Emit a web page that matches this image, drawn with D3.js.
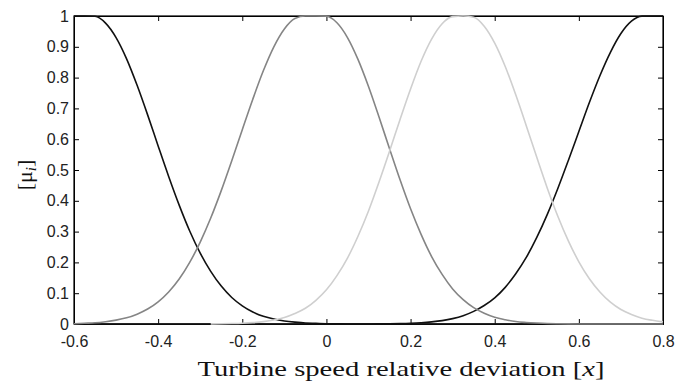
<!DOCTYPE html>
<html><head><meta charset="utf-8">
<script src="https://cdn.jsdelivr.net/npm/d3@7"></script>
<style>body{margin:0;background:#fff}svg{display:block}</style>
</head><body><svg id="c" width="683" height="382"></svg>
<script>
// x positions (relative deviation)
const xValues = [-0.6,-0.575,-0.55,-0.525,-0.5,-0.475,-0.45,-0.425,-0.4,-0.375,-0.35,-0.325,-0.3,-0.275,-0.25,-0.225,-0.2,-0.175,-0.15,-0.125,-0.1,-0.075,-0.05,-0.025,0,0.025,0.05,0.075,0.1,0.125,0.15,0.175,0.2,0.225,0.25,0.275,0.3,0.325,0.35,0.375,0.4,0.425,0.45,0.475,0.5,0.525,0.55,0.575,0.6,0.625,0.65,0.675,0.7,0.725,0.75,0.775,0.8];
// membership 1 (black, left)
const muLow = [1,1,0.999,0.977,0.930,0.861,0.775,0.679,0.578,0.479,0.386,0.302,0.230,0.171,0.123,0.086,0.059,0.039,0.025,0.016,0.010,0.006,0.003,0.002,0.001,0.0005,0,0,0,0,0,0,0,0,0,0,0,0,0,0,0,0,0,0,0,0,0,0,0,0,0,0,0,0,0,0,0];
// membership 4 (black, right)
const muHigh = [0,0,0,0,0,0,0,0,0,0,0,0,0,0,0,0,0,0,0,0,0,0,0,0,0,0,0.0001,0.0001,0.0002,0.0004,0.0008,0.0014,0.0024,0.0041,0.0069,0.011,0.0175,0.027,0.041,0.060,0.085,0.119,0.163,0.216,0.281,0.356,0.440,0.531,0.625,0.719,0.806,0.882,0.943,0.983,0.9995,1,1];
// membership 2 (dark grey)
const muZero = [0.001,0.0025,0.004,0.0075,0.0125,0.020,0.032,0.0485,0.072,0.104,0.146,0.200,0.266,0.344,0.433,0.530,0.631,0.730,0.822,0.900,0.958,0.992,1,1,0.999,0.978,0.930,0.859,0.771,0.672,0.569,0.468,0.374,0.291,0.219,0.161,0.114,0.079,0.053,0.035,0.022,0.014,0.008,0.005,0.003,0.0015,0.0008,0.0004,0.0002,0,0,0,0,0,0,0,0];
// membership 3 (light grey)
const muMid = [null,null,null,null,null,null,null,null,null,null,null,null,null,0.0004,0.0007,0.0014,0.0025,0.0045,0.0078,0.013,0.021,0.034,0.051,0.077,0.111,0.157,0.214,0.285,0.367,0.461,0.561,0.664,0.763,0.853,0.925,0.975,0.998,1,0.996,0.967,0.912,0.836,0.744,0.644,0.541,0.441,0.350,0.270,0.202,0.147,0.104,0.071,0.047,0.031,0.019,0.012,0.007];
const xTicks = [-0.6,-0.4,-0.2,0,0.2,0.4,0.6,0.8];
const yTicks = [0,0.1,0.2,0.3,0.4,0.5,0.6,0.7,0.8,0.9,1];
const seriesList = [
  {name:"low", values: muLow, color:"#111111"},
  {name:"high", values: muHigh, color:"#111111"},
  {name:"zero", values: muZero, color:"#858585"},
  {name:"mid", values: muMid, color:"#cfcfcf"}
];

const svg = d3.select("#c");
const L = 74, R = 663, T = 16, B = 324;
const x = d3.scaleLinear().domain([-0.6, 0.8]).range([L, R]);
const y = d3.scaleLinear().domain([0, 1]).range([B, T]);

const fmt = d => d === 0 ? "0" : (d === 1 ? "1" : String(d));

const line = d3.line()
  .defined(d => d[1] !== null)
  .x(d => x(d[0])).y(d => y(d[1]))
  .curve(d3.curveMonotoneX);

// axes (ticks inward)
const gB = svg.append("g").attr("transform", `translate(0,${B})`)
  .call(d3.axisBottom(x).tickValues(xTicks).tickSize(-5).tickPadding(12).tickFormat(fmt));
const gT = svg.append("g").attr("transform", `translate(0,${T})`)
  .call(d3.axisTop(x).tickValues(xTicks).tickSize(-5).tickFormat(""));
const gL = svg.append("g").attr("transform", `translate(${L},0)`)
  .call(d3.axisLeft(y).tickValues(yTicks).tickSize(-5).tickPadding(5).tickFormat(fmt));
const gR = svg.append("g").attr("transform", `translate(${R},0)`)
  .call(d3.axisRight(y).tickValues(yTicks).tickSize(-5).tickFormat(""));
[gB, gT, gL, gR].forEach(g => {
  g.select(".domain").attr("stroke", "#000").attr("stroke-width", 1);
  g.selectAll(".tick line").attr("stroke", "#000");
  g.selectAll("text").attr("font-family", "'Liberation Sans', Arial, sans-serif")
    .attr("font-size", 16).attr("fill", "#222");
});
svg.append("rect").attr("x", L).attr("y", T).attr("width", R - L).attr("height", B - T)
  .attr("fill", "none").attr("stroke", "#000").attr("stroke-width", 1.2);

seriesList.forEach(s => {
  svg.append("path")
    .datum(xValues.map((xv, i) => [xv, s.values[i]]))
    .attr("fill", "none").attr("stroke", s.color).attr("stroke-width", 1.6)
    .attr("d", line);
});

// x title
const xt = svg.append("text").attr("x", 401).attr("y", 376).attr("text-anchor", "middle")
  .attr("font-family", "'Liberation Serif', 'Times New Roman', serif").attr("font-size", 22).attr("fill", "#111")
  .attr("textLength", 407).attr("lengthAdjust", "spacingAndGlyphs");
xt.append("tspan").text("Turbine speed relative deviation [");
xt.append("tspan").attr("font-style", "italic").text("x");
xt.append("tspan").text("]");

// y title
const yt = svg.append("text").attr("transform", "translate(32,175) rotate(-90)").attr("text-anchor", "middle")
  .attr("font-family", "'Liberation Serif', 'Times New Roman', serif").attr("font-size", 22).attr("fill", "#111");
yt.append("tspan").text("[μ");
yt.append("tspan").attr("font-style", "italic").attr("font-size", 15).attr("dy", 4).text("i");
yt.append("tspan").attr("dy", -4).text("]");
</script>
</body></html>
